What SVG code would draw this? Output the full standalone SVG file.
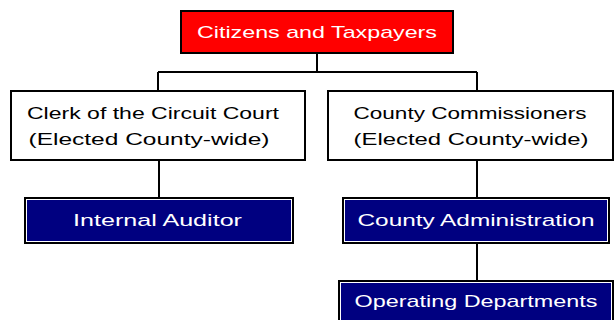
<svg xmlns="http://www.w3.org/2000/svg" width="614" height="320" viewBox="0 0 614 320">
<style>
.box{stroke:#000;stroke-width:2}
.inner{fill:none;stroke:#fff;stroke-width:1}
.t{font-family:"Liberation Sans",Arial,sans-serif;font-size:17px;text-anchor:middle}
.w{fill:#fff}
.k{fill:#000}
.conn{stroke:#000;stroke-width:2;fill:none}
</style>
<rect width="614" height="320" fill="#fff"/>
<g id="connectors">
<line class="conn" x1="317" y1="53" x2="317" y2="72"/>
<line class="conn" x1="158" y1="72" x2="477" y2="72"/>
<line class="conn" x1="158" y1="72" x2="158" y2="91"/>
<line class="conn" x1="477" y1="72" x2="477" y2="91"/>
<line class="conn" x1="159" y1="160" x2="159" y2="198"/>
<line class="conn" x1="477" y1="160" x2="477" y2="198"/>
<line class="conn" x1="477" y1="243" x2="477" y2="281"/>
</g>
<g id="citizens">
<rect class="box" x="181" y="11" width="272" height="42" fill="#ff0000"/>
<text class="t w" x="317" y="38" textLength="240" lengthAdjust="spacingAndGlyphs">Citizens and Taxpayers</text>
</g>
<g id="clerk">
<rect class="box" x="11" y="91" width="294" height="69" fill="#fff"/>
<text class="t k" x="153" y="119" textLength="252" lengthAdjust="spacingAndGlyphs">Clerk of the Circuit Court</text>
<text class="t k" x="149" y="145" textLength="241" lengthAdjust="spacingAndGlyphs">(Elected County-wide)</text>
</g>
<g id="commissioners">
<rect class="box" x="328" y="91" width="285" height="69" fill="#fff"/>
<text class="t k" x="470" y="119" textLength="233" lengthAdjust="spacingAndGlyphs">County Commissioners</text>
<text class="t k" x="471" y="145" textLength="235" lengthAdjust="spacingAndGlyphs">(Elected County-wide)</text>
</g>
<g id="auditor">
<rect class="box" x="25" y="198" width="268" height="45" fill="#000080"/>
<rect class="inner" x="26.5" y="199.5" width="265" height="42"/>
<text class="t w" x="157.5" y="226" textLength="169" lengthAdjust="spacingAndGlyphs">Internal Auditor</text>
</g>
<g id="administration">
<rect class="box" x="343" y="198" width="266" height="45" fill="#000080"/>
<rect class="inner" x="344.5" y="199.5" width="263" height="42"/>
<text class="t w" x="476" y="226" textLength="237" lengthAdjust="spacingAndGlyphs">County Administration</text>
</g>
<g id="operating">
<rect class="box" x="339" y="281" width="274" height="45" fill="#000080"/>
<rect class="inner" x="340.5" y="282.5" width="271" height="42"/>
<text class="t w" x="476" y="307" textLength="243" lengthAdjust="spacingAndGlyphs">Operating Departments</text>
</g>
</svg>
